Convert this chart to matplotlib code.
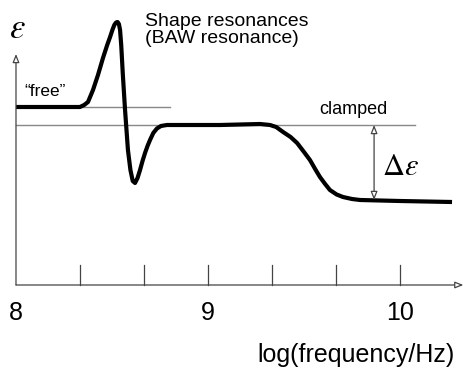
import matplotlib
matplotlib.use("Agg")
import matplotlib.pyplot as plt

plt.rcParams["font.family"] = ["Liberation Sans", "DejaVu Sans"]
plt.rcParams["mathtext.fontset"] = "stix"

# permittivity curve vs log(frequency/Hz), arbitrary units
log_f = [8.0, 8.177, 8.333, 8.355, 8.375, 8.401, 8.427, 8.453, 8.475, 8.490,
         8.502, 8.512, 8.521, 8.529, 8.536, 8.542, 8.548, 8.556, 8.568,
         8.583, 8.596, 8.608, 8.620, 8.633, 8.646, 8.659, 8.672, 8.685,
         8.698, 8.715, 8.734, 8.755, 8.786, 9.063, 9.271, 9.323, 9.355,
         9.391, 9.43, 9.464, 9.50, 9.531, 9.558, 9.583, 9.61, 9.635, 9.67,
         9.703, 9.75, 9.792, 10.0, 10.271]
eps = [1.78, 1.78, 1.78, 1.80, 1.83, 1.95, 2.10, 2.27, 2.40, 2.48,
       2.55, 2.60, 2.625, 2.63, 2.61, 2.55, 2.40, 2.12, 1.75,
       1.35, 1.15, 1.04, 1.02, 1.07, 1.15, 1.24, 1.32, 1.39,
       1.45, 1.52, 1.565, 1.59, 1.60, 1.60, 1.61, 1.60, 1.58,
       1.53, 1.48, 1.42, 1.33, 1.25, 1.16, 1.08, 1.01, 0.95, 0.905,
       0.88, 0.86, 0.85, 0.84, 0.83]

free_level = 1.78
clamped_level = 1.60
relaxed_level = 0.85
tick_pos = [8 + k / 3 for k in range(1, 7)]
label_pos = [8, 9, 10]
label_txt = ["8", "9", "10"]

fig = plt.figure(figsize=(4.64, 3.75), dpi=100)
ax = fig.add_axes([0, 0, 1, 1])
ax.set_xlim(7.9167, 10.3333)
ax.set_ylim(-0.9, 2.85)
ax.axis("off")

lw_axis = 0.9
arrow = dict(arrowstyle="-|>,head_length=0.5,head_width=0.2", lw=lw_axis,
             color="#444444", fc="white", shrinkA=0, shrinkB=0)
ax.annotate("", xy=(10.33, 0), xytext=(8, 0), arrowprops=arrow)
ax.annotate("", xy=(8, 2.31), xytext=(8, 0), arrowprops=arrow)
for t in tick_pos:
    ax.plot([t, t], [0, 0.2], color="#444444", lw=lw_axis)
for p, s in zip(label_pos, label_txt):
    ax.text(p, -0.28, s, ha="center", va="center", fontsize=18)
ax.text(10.286, -0.70, "log(frequency/Hz)", ha="right", va="center",
        fontsize=18)

# reference levels
ax.plot([8, 8.802], [free_level, free_level], color="#888888", lw=1.0)
ax.plot([8, 10.078], [clamped_level, clamped_level], color="#888888", lw=1.0)
ax.plot(log_f, eps, color="black", lw=3.0, solid_capstyle="butt",
        solid_joinstyle="round")

darrow = dict(arrowstyle="<|-|>,head_length=0.5,head_width=0.2", lw=0.9,
              color="#444444", fc="white", shrinkA=0, shrinkB=0)
ax.annotate("", xy=(9.865, relaxed_level), xytext=(9.865, clamped_level),
            arrowprops=darrow)

ax.text(7.965, 2.56, r"$\varepsilon$", fontsize=25, ha="left", va="center")
ax.text(9.905, 1.18, r"$\Delta\varepsilon$", fontsize=22, ha="left",
        va="center")
ax.text(8.042, 1.93, "\u201cfree\u201d", fontsize=12.5, ha="left",
        va="center")
ax.text(9.755, 1.75, "clamped", fontsize=13, ha="center", va="center")
ax.text(8.672, 2.55, "Shape resonances\n(BAW resonance)", fontsize=14,
        ha="left", va="center", linespacing=1.05)

fig.savefig("out.png", dpi=100)
